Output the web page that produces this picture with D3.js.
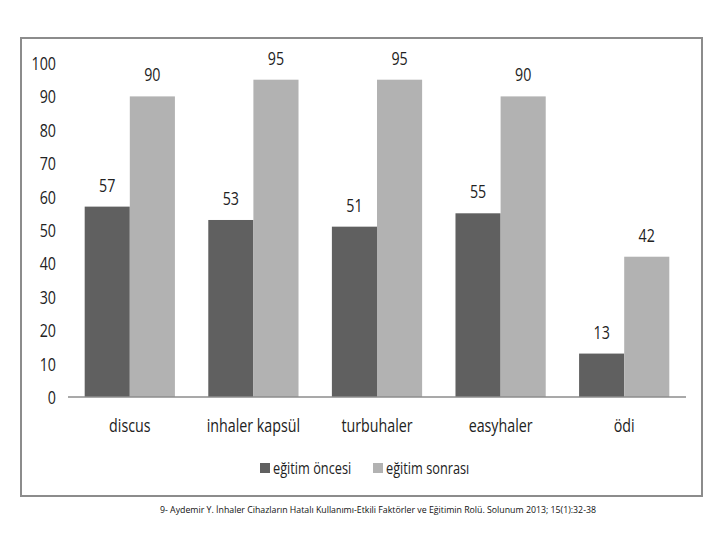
<!DOCTYPE html>
<html>
<head>
<meta charset="utf-8">
<script src="https://cdn.jsdelivr.net/npm/d3@7"></script>
<style>
  body { margin: 0; background: #fff; }
  text { font-family: "Open Sans", "Liberation Sans", sans-serif; }
</style>
</head>
<body>
<div id="chart"></div>
<script>
var categories = ["discus", "inhaler kapsül", "turbuhaler", "easyhaler", "ödi"]
var seriesNames = ["eğitim öncesi", "eğitim sonrası"]
var oncesi = [57, 53, 51, 55, 13]
var sonrasi = [90, 95, 95, 90, 42]
var yTicks = [0, 10, 20, 30, 40, 50, 60, 70, 80, 90, 100]
var colors = ["#606060", "#b2b2b2"]
var footer = "9- Aydemir Y. İnhaler Cihazların Hatalı Kullanımı-Etkili Faktörler ve Eğitimin Rolü. Solunum 2013; 15(1):32-38"

var width = 720, height = 540
var sx = 0.75  // narrow the glyphs like the original condensed font

var svg = d3.select("#chart").append("svg")
  .attr("width", width)
  .attr("height", height)

function tr(x, y) { return "translate(" + x + "," + y + ") scale(" + sx + ",1)" }

// outer frame
svg.append("rect")
  .attr("x", 21).attr("y", 38)
  .attr("width", 681).attr("height", 458)
  .attr("fill", "none")
  .attr("stroke", "#8c8c8c")
  .attr("stroke-width", 2)

var x0 = d3.scaleBand().domain(categories).range([68, 686]).padding(0)
var step = x0.bandwidth()
var x1 = d3.scaleBand().domain(seriesNames).range([step * 0.135, step * 0.865]).padding(0)
var y = d3.scaleLinear().domain([0, 100]).range([397, 63])

// y labels
svg.append("g").selectAll("text")
  .data(yTicks)
  .enter().append("text")
  .attr("transform", function(d) { return tr(56, y(d) + 7) })
  .attr("text-anchor", "end")
  .style("font-size", "19px")
  .attr("fill", "#222")
  .text(function(d) { return d })

var rows = categories.map(function(c, i) {
  return { cat: c, values: [oncesi[i], sonrasi[i]] }
})

var groups = svg.append("g").selectAll("g")
  .data(rows)
  .enter().append("g")
  .attr("transform", function(d) { return "translate(" + x0(d.cat) + ",0)" })

function barData(d) {
  return d.values.map(function(v, j) { return { s: seriesNames[j], v: v, j: j } })
}

groups.selectAll("rect")
  .data(barData)
  .enter().append("rect")
  .attr("x", function(d) { return x1(d.s) })
  .attr("y", function(d) { return y(d.v) })
  .attr("width", x1.bandwidth())
  .attr("height", function(d) { return y(0) - y(d.v) })
  .attr("fill", function(d) { return colors[d.j] })

groups.selectAll("text")
  .data(barData)
  .enter().append("text")
  .attr("transform", function(d) { return tr(x1(d.s) + x1.bandwidth() / 2, y(d.v) - 15) })
  .attr("text-anchor", "middle")
  .style("font-size", "19px")
  .attr("fill", "#222")
  .text(function(d) { return d.v })

// baseline
svg.append("line")
  .attr("x1", 68).attr("x2", 686)
  .attr("y1", y(0)).attr("y2", y(0))
  .attr("stroke", "#8c8c8c")
  .attr("stroke-width", 1.5)

// category labels
svg.append("g").selectAll("text")
  .data(categories)
  .enter().append("text")
  .attr("transform", function(d) { return tr(x0(d) + step / 2, 432) })
  .attr("text-anchor", "middle")
  .style("font-size", "19px")
  .attr("fill", "#222")
  .text(function(d) { return d })

// legend
var legendX = [260, 373]
var legend = svg.append("g").selectAll("g")
  .data(seriesNames)
  .enter().append("g")
  .attr("transform", function(d, i) { return "translate(" + legendX[i] + ",463)" })

legend.append("rect")
  .attr("width", 10).attr("height", 10)
  .attr("fill", function(d, i) { return colors[i] })

legend.append("text")
  .attr("transform", tr(13, 11))
  .style("font-size", "17px")
  .attr("fill", "#222")
  .text(function(d) { return d })

svg.append("text")
  .attr("x", 160).attr("y", 513)
  .attr("textLength", 436)
  .attr("lengthAdjust", "spacingAndGlyphs")
  .style("font-size", "9px")
  .attr("fill", "#111")
  .text(footer)
</script>
</body>
</html>
